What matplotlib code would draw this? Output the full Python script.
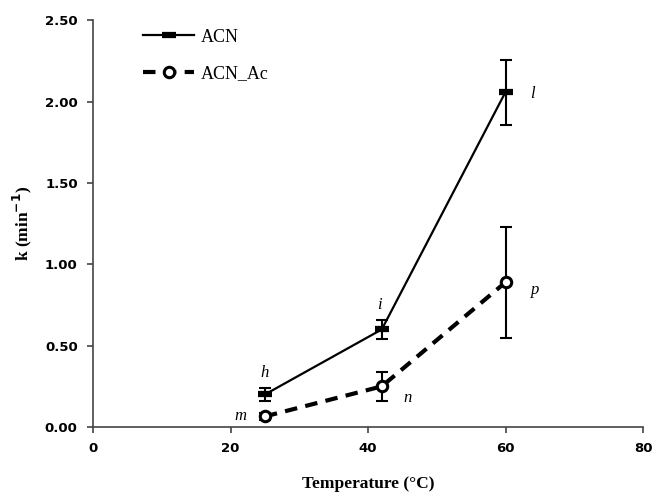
import matplotlib
matplotlib.use("Agg")
import matplotlib.pyplot as plt

# data
temps = [25, 42, 60]
acn = [0.20, 0.60, 2.06]
acn_err = [0.037, 0.06, 0.20]
acn_ac = [0.065, 0.25, 0.89]
acn_ac_err = [0.02, 0.09, 0.34]

acn_labels = ["h", "i", "l"]
acn_ac_labels = ["m", "n", "p"]

fig = plt.figure(figsize=(6.54, 4.97), dpi=100)
ax = fig.add_axes([0.1422, 0.1408, 0.841, 0.818])

# error bars first, drawn on their own so caps stay thin
ax.errorbar(temps, acn, yerr=acn_err, fmt="none", ecolor="black",
            elinewidth=1.5, capsize=4, capthick=1.5, zorder=2)
ax.errorbar(temps, acn_ac, yerr=acn_ac_err, fmt="none", ecolor="black",
            elinewidth=1.5, capsize=4, capthick=1.5, zorder=2)

ax.plot(temps, acn, color="black", linewidth=1.6, marker="_",
        markersize=10, markeredgewidth=4.5, label="ACN", zorder=3)
ax.plot(temps, acn_ac, color="black", linewidth=3, linestyle=(0, (3, 2)),
        marker="o", markersize=7.5, markerfacecolor="white",
        markeredgewidth=2.2, label="ACN_Ac", zorder=3)

serif = "Liberation Serif"
# letter annotations next to the points
kw = dict(fontsize=12, style="italic", family=serif, ha="center", va="center")
ax.text(25, 0.33, acn_labels[0], **kw)
ax.text(41.6, 0.75, acn_labels[1], **kw)
ax.text(63.9, 2.05, acn_labels[2], **kw)
ax.text(21.4, 0.07, acn_ac_labels[0], **kw)
ax.text(45.7, 0.18, acn_ac_labels[1], **kw)
ax.text(64.3, 0.84, acn_ac_labels[2], **kw)

ax.set_xlim(0, 80)
ax.set_ylim(0, 2.5)
ax.set_xticks([0, 20, 40, 60, 80])
ax.set_yticks([0, 0.5, 1.0, 1.5, 2.0, 2.5])
ax.set_yticklabels(["%.2f" % v for v in [0, 0.5, 1.0, 1.5, 2.0, 2.5]])

for s in ["top", "right"]:
    ax.spines[s].set_visible(False)
for s in ["left", "bottom"]:
    ax.spines[s].set_color("#444444")
    ax.spines[s].set_linewidth(1.2)

ax.tick_params(direction="out", length=4, width=1.2, color="#444444", pad=7)
for lab in ax.get_xticklabels() + ax.get_yticklabels():
    lab.set_fontweight("bold")
    lab.set_fontsize(9.5)
    lab.set_family("DejaVu Sans")

ax.set_xlabel("Temperature (°C)", fontsize=12.5, fontweight="bold", family=serif, labelpad=15)
ax.set_ylabel("k (min$^{\\mathbf{-1}}$)", fontsize=12.5, fontweight="bold", family=serif, labelpad=8)

leg = ax.legend(loc="upper left", bbox_to_anchor=(0.062, 1.02), frameon=False,
                prop={"family": serif, "size": 13}, handlelength=2.8,
                handletextpad=0.4, labelspacing=1.1, numpoints=1)

plt.savefig("out.png", dpi=100)
